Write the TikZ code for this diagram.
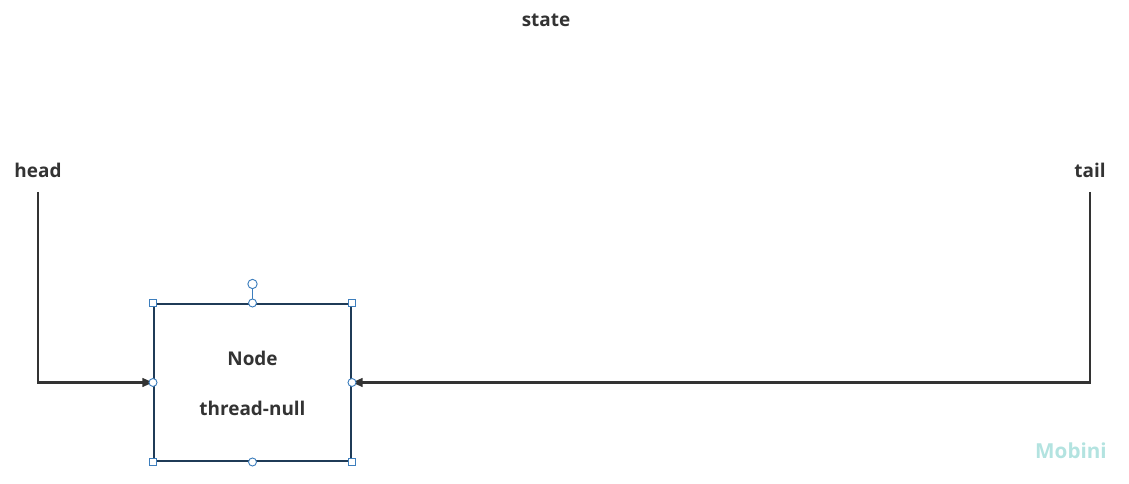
\documentclass[tikz,border=0pt]{standalone}
\usepackage{fontspec}
\setmainfont{Open Sans}
\usetikzlibrary{arrows.meta}
\definecolor{txC}{HTML}{333333}
\definecolor{bxC}{HTML}{1F3B57}
\definecolor{hdC}{HTML}{3D7EBD}
\definecolor{wmC}{HTML}{B3E3E0}
\begin{document}
\begin{tikzpicture}[x=0.75pt,y=-0.75pt,
  lbl/.style={txC,font=\bfseries\fontsize{14.2}{16}\selectfont,inner sep=0pt},
  link/.style={txC,line width=1.6pt,-{Triangle[length=8pt,width=6.5pt]}},
  sqhandle/.style={draw=hdC,fill=white,line width=0.7pt,minimum size=5.5pt,inner sep=0pt},
  cirhandle/.style={circle,draw=hdC,fill=white,line width=0.7pt,minimum size=6pt,inner sep=0pt}]
\useasboundingbox (0,0) rectangle (1129,484);
% title
\node[lbl] (state) at (546,20) {state};
% pointers
\node[lbl] (head) at (38,170) {head};
\node[lbl] (tail) at (1090,170) {tail};
% the node box
\node[draw=bxC,line width=1.5pt,minimum width=147.75pt,minimum height=117.75pt,inner sep=0pt] (box) at (252.5,382.5) {};
\node[lbl] (name) at (252.5,358) {Node};
\node[lbl] (thread) at (252.5,408) {thread-null};
\draw[link] (38,192) |- (box.west);
\draw[link] (1090,192) |- (box.east);
% selection handles
\draw[hdC,line width=0.7pt] (box.north) -- ++(0,-19) coordinate (rot);
\foreach \c in {north west,north east,south west,south east}
  \node[sqhandle] at (box.\c) {};
\foreach \c in {north,south,west,east}
  \node[cirhandle] at (box.\c) {};
\node[cirhandle,minimum size=7pt] at (rot) {};
% watermark
\node[wmC,font=\bfseries\fontsize{15.5}{17}\selectfont,inner sep=0pt] (mark) at (1071,451) {Mobini};
\end{tikzpicture}
\end{document}
